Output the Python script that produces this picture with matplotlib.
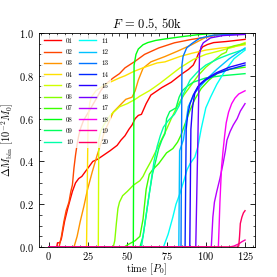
import matplotlib
matplotlib.use("Agg")
import matplotlib.pyplot as plt
from matplotlib.ticker import AutoMinorLocator

plt.rcParams['font.family'] = 'serif'
plt.rcParams['font.serif'] = ['cmr10']
plt.rcParams['mathtext.fontset'] = 'cm'
plt.rcParams['axes.formatter.use_mathtext'] = True

# time [P0] and accreted mass for each run
t01 = [0, 5, 5.5, 7, 8, 10, 12, 15, 17, 19, 21, 23, 25.5, 28, 31, 35, 39, 43.5, 46, 48.5,
       51, 53, 55, 57, 59, 62, 65, 68, 72, 78, 85, 89, 92, 94, 96, 98, 101, 105, 113, 125]
v01 = [0, 0, 0.02, 0.02, 0.04, 0.12, 0.18, 0.26, 0.30, 0.32, 0.33, 0.35, 0.375, 0.40, 0.41, 0.43, 0.45, 0.475, 0.50, 0.52,
       0.55, 0.57, 0.60, 0.615, 0.62, 0.67, 0.71, 0.725, 0.745, 0.77, 0.81, 0.83, 0.85, 0.88, 0.915, 0.935, 0.946, 0.955, 0.96, 0.97]
t02 = [0, 6.5, 8, 9.6, 11, 12.8, 14, 15, 16, 17, 18, 19, 20, 22, 26, 30, 33, 36, 41, 45,
       48.5, 55, 61, 70, 80, 91, 100, 107, 113, 125]
v02 = [0, 0, 0.05, 0.12, 0.17, 0.21, 0.26, 0.29, 0.37, 0.43, 0.48, 0.52, 0.55, 0.59, 0.64, 0.69, 0.73, 0.76, 0.79, 0.81,
       0.837, 0.868, 0.9, 0.93, 0.954, 0.97, 0.98, 0.99, 0.998, 1.0]
t03 = [0, 16, 18, 20, 22.3, 24.5, 27.6, 30.8, 33, 35, 38, 41, 45, 49, 53, 55, 57, 60, 65, 74, 82, 91, 100, 108, 125]
v03 = [0, 0, 0.05, 0.12, 0.19, 0.265, 0.35, 0.43, 0.48, 0.53, 0.58, 0.63, 0.66, 0.69, 0.70, 0.73, 0.78, 0.835, 0.865,
       0.89, 0.915, 0.945, 0.98, 0.995, 1.0]
t04 = [0, 24, 24.5, 25, 26, 27, 30, 35, 39, 45, 48.5, 54, 61, 69, 74, 83.5, 91, 100, 110, 117, 125]
v04 = [0, 0, 0.3, 0.6, 0.67, 0.70, 0.73, 0.755, 0.77, 0.79, 0.80, 0.82, 0.84, 0.86, 0.865, 0.89, 0.905, 0.92, 0.93, 0.935, 0.945]
t05 = [0, 31.5, 31.8, 33, 35, 39, 45, 50, 55, 58, 64, 67, 71, 77, 83.5, 92, 100, 108, 118, 125]
v05 = [0, 0, 0.5, 0.54, 0.57, 0.615, 0.655, 0.67, 0.69, 0.705, 0.73, 0.745, 0.766, 0.80, 0.837, 0.876, 0.9, 0.915, 0.935, 0.955]
t06 = [0, 41, 42, 43, 44, 45, 47, 50, 54, 56, 58, 60, 62, 65, 67, 69, 71, 73, 75, 78,
       82, 86, 90, 95, 100, 105, 110, 113, 114, 118, 125]
v06 = [0, 0, 0.03, 0.11, 0.18, 0.21, 0.24, 0.26, 0.29, 0.30, 0.31, 0.33, 0.36, 0.40, 0.43, 0.46, 0.49, 0.52, 0.55, 0.60,
       0.66, 0.71, 0.75, 0.80, 0.84, 0.87, 0.90, 0.91, 0.93, 0.94, 0.95]
t07 = [0, 48, 50, 55, 58, 60, 62, 64, 66, 70, 75, 79, 82, 84, 86, 88, 90, 93, 97, 102, 108, 115, 125]
v07 = [0, 0, 0.01, 0.03, 0.05, 0.13, 0.27, 0.34, 0.36, 0.39, 0.44, 0.46, 0.49, 0.52, 0.56, 0.60, 0.64, 0.69, 0.74, 0.78,
       0.815, 0.83, 0.84]
t08 = [0, 53.8, 54.3, 55.5, 57, 60, 63, 68, 74, 85, 95, 105, 125]
v08 = [0, 0, 0.85, 0.9, 0.925, 0.945, 0.955, 0.965, 0.972, 0.983, 0.992, 0.998, 1.0]
t09 = [0, 58, 60, 62, 64, 66, 68, 70, 72, 74, 75, 77, 81, 83, 85, 88, 92, 100, 110, 125]
v09 = [0, 0, 0.05, 0.15, 0.25, 0.34, 0.40, 0.46, 0.50, 0.53, 0.60, 0.633, 0.65, 0.70, 0.73, 0.75, 0.77, 0.79, 0.80, 0.81]
t10 = [0, 59, 61, 63, 65, 67, 69, 71, 73, 76, 80, 83, 86, 90, 95, 100, 108, 115, 125]
v10 = [0, 0, 0.1, 0.2, 0.3, 0.4, 0.47, 0.52, 0.56, 0.59, 0.62, 0.66, 0.72, 0.78, 0.82, 0.85, 0.88, 0.90, 0.925]
t11 = [0, 73, 76, 79, 81, 83.5, 86, 88, 90, 93, 95, 97, 100, 103, 107, 112, 118, 125]
v11 = [0, 0, 0.06, 0.14, 0.2, 0.25, 0.31, 0.36, 0.39, 0.42, 0.47, 0.55, 0.65, 0.70, 0.76, 0.82, 0.88, 0.92]
t12 = [0, 82.8, 83.3, 85.7, 88.8, 93, 100, 107, 115, 125]
v12 = [0, 0, 0.45, 0.5, 0.656, 0.72, 0.78, 0.83, 0.88, 0.93]
t13 = [0, 84.2, 84.8, 85.5, 87.8, 91, 96, 105, 125]
v13 = [0, 0, 0.85, 0.89, 0.93, 0.95, 0.975, 0.99, 0.995]
t14 = [0, 86.8, 87.5, 88.5, 90, 92, 95, 100, 107, 115, 125]
v14 = [0, 0, 0.55, 0.62, 0.67, 0.71, 0.75, 0.78, 0.81, 0.83, 0.85]
t15 = [0, 89.8, 90.5, 91.5, 93, 96, 100, 107, 115, 125]
v15 = [0, 0, 0.55, 0.65, 0.72, 0.76, 0.785, 0.815, 0.84, 0.86]
t16 = [0, 93.6, 96, 97, 98.4, 103, 111, 125]
v16 = [0, 0, 0.9, 0.935, 0.954, 0.977, 0.988, 0.993]
t17 = [0, 103.5, 104.5, 105.5, 107, 109, 111, 112.5, 113.5, 115.5, 117.5, 120, 122, 125]
v17 = [0, 0, 0.14, 0.21, 0.26, 0.32, 0.39, 0.45, 0.50, 0.54, 0.57, 0.60, 0.635, 0.67]
t18 = [0, 108, 108.5, 109, 110, 111, 112, 113, 114.5, 116.5, 118.6, 121, 125]
v18 = [0, 0, 0.1, 0.21, 0.37, 0.45, 0.52, 0.58, 0.63, 0.67, 0.696, 0.715, 0.73]
t19 = [0, 115, 118, 121, 123, 125]
v19 = [0, 0, 0.005, 0.015, 0.025, 0.033]
t20 = [0, 120, 121, 121.5, 122, 123, 124, 125]
v20 = [0, 0, 0.005, 0.05, 0.11, 0.14, 0.16, 0.17]

times = [t01, t02, t03, t04, t05, t06, t07, t08, t09, t10,
         t11, t12, t13, t14, t15, t16, t17, t18, t19, t20]
masses = [v01, v02, v03, v04, v05, v06, v07, v08, v09, v10,
          v11, v12, v13, v14, v15, v16, v17, v18, v19, v20]
labels = ['%02d' % (i + 1) for i in range(20)]

fig = plt.figure(figsize=(2.77, 2.77), dpi=100)
ax = fig.add_axes([0.141, 0.108, 0.779, 0.773])

for i in range(20):
    ax.plot(times[i], masses[i], color=plt.cm.hsv(i / 20.), lw=1.0, label=labels[i])

ax.set_xlim(-6.25, 131.25)
ax.set_ylim(0, 1)
ax.set_xticks([0, 25, 50, 75, 100, 125])
ax.set_yticks([0, 0.2, 0.4, 0.6, 0.8, 1.0])
ax.xaxis.set_minor_locator(AutoMinorLocator(5))
ax.yaxis.set_minor_locator(AutoMinorLocator(4))
ax.tick_params(which='both', direction='in', top=True, right=True, labelsize=7.5)
ax.tick_params(axis='x', pad=2)
ax.tick_params(which='major', length=3.5, width=0.6)
ax.tick_params(which='minor', length=1.8, width=0.5)
for s in ax.spines.values():
    s.set_linewidth(0.6)

ax.set_xlabel(r'time $[P_0]$', fontsize=7.5, labelpad=0)
ax.set_ylabel(r'$\Delta M_{\rm bin}\ [10^{-2}M_0]$', fontsize=7.5, labelpad=2)
ax.set_title(r'$F\,=\,0.5$, 50k', fontsize=9, pad=2)

leg = ax.legend(loc='upper left', ncol=2, fontsize=5, frameon=True, framealpha=0.8,
                edgecolor='none', handlelength=2.4, labelspacing=0.78, columnspacing=0.9,
                borderaxespad=0.3)

fig.savefig('out.png', dpi=100)
